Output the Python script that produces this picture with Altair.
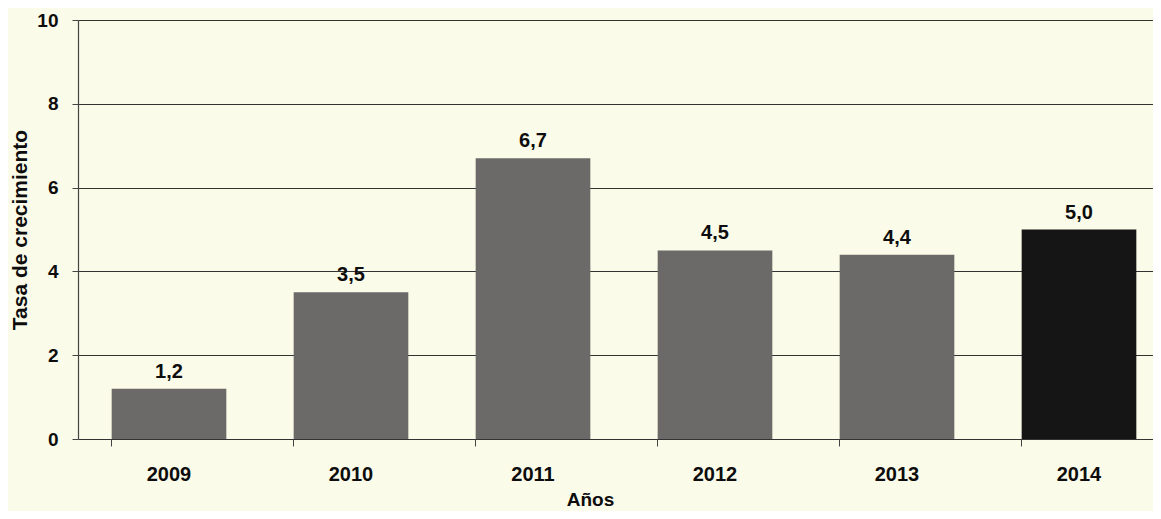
import altair as alt
import pandas as pd

years = ["2009", "2010", "2011", "2012", "2013", "2014"]
values = [1.2, 3.5, 6.7, 4.5, 4.4, 5.0]
highlight = ["normal", "normal", "normal", "normal", "normal", "actual"]
labels = [f"{v:.1f}".replace(".", ",") for v in values]

df = pd.DataFrame({"year": years, "value": values, "grp": highlight, "label": labels})

FONT = "Liberation Sans"

x = alt.X(
    "year:N",
    sort=years,
    scale=alt.Scale(range=[0, 1092], paddingInner=0.37, paddingOuter=0.185),
    axis=alt.Axis(
        title="Años",
        labelAngle=0,
        domain=False,
        grid=False,
        bandPosition=0,
        ticks=True,
        tickSize=7,
        tickColor="#444444",
        labelPadding=18,
        labelFont=FONT,
        labelFontSize=20,
        labelFontWeight="bold",
        labelColor="#0d0d0d",
        titleFont=FONT,
        titleFontSize=19,
        titleFontWeight="bold",
        titleColor="#0d0d0d",
        titleX=512,
        titleY=66,
        titleBaseline="alphabetic",
        titleAlign="center",
    ),
)

y = alt.Y(
    "value:Q",
    scale=alt.Scale(domain=[0, 10], nice=False),
    axis=alt.Axis(
        title="Tasa de crecimiento",
        values=[0, 2, 4, 6, 8, 10],
        grid=True,
        gridColor="#333333",
        gridWidth=1.2,
        domain=True,
        domainColor="#444444",
        domainWidth=1.2,
        tickSize=6,
        tickColor="#444444",
        labelPadding=14,
        labelFont=FONT,
        labelFontSize=19,
        labelFontWeight="bold",
        labelColor="#0d0d0d",
        titleFont=FONT,
        titleFontSize=21,
        titleFontWeight="bold",
        titleColor="#0d0d0d",
        titlePadding=6,
    ),
)

bars = alt.Chart(df).mark_bar().encode(
    x=x,
    y=y,
    color=alt.Color(
        "grp:N",
        scale=alt.Scale(domain=["normal", "actual"], range=["#6c6a68", "#151515"]),
        legend=None,
    ),
)

text = alt.Chart(df).mark_text(
    font=FONT, fontSize=20, fontWeight="bold", color="#0d0d0d",
    baseline="alphabetic", dy=-11,
).encode(
    x=alt.X("year:N", sort=years),
    y=alt.Y("value:Q"),
    text="label:N",
)

chart = (
    alt.layer(bars, text)
    .properties(
        width=1075,
        height=419,
        background="#fbfbe9",
        padding={"left": 70, "top": 12, "right": 0, "bottom": 72},
        autosize=alt.AutoSizeParams(type="none"),
    )
    .configure_view(stroke=None)
)

chart.save("out.html", embed_options={"renderer": "svg", "actions": False})
